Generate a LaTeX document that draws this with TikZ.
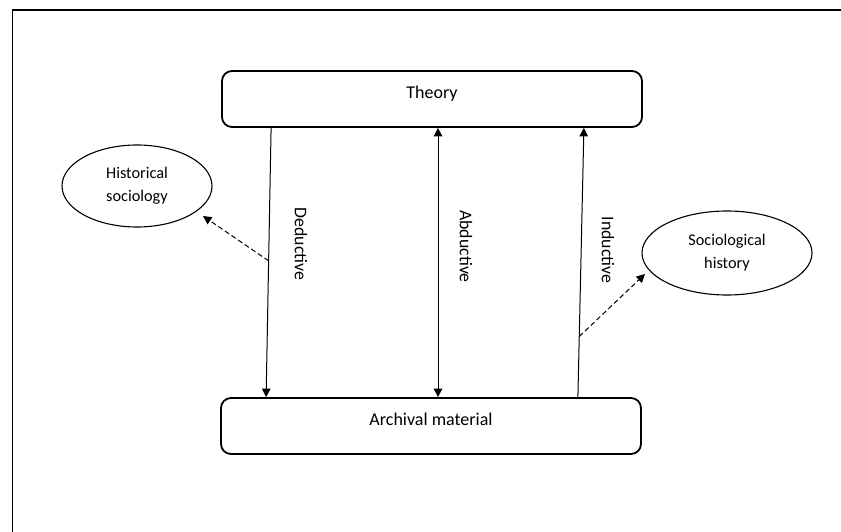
\documentclass[tikz,border=0pt]{standalone}
\usepackage{fontspec}
\setmainfont{Carlito}
\usetikzlibrary{arrows.meta,shapes.geometric,calc}
\begin{document}
\begin{tikzpicture}[x=1pt,y=-1pt,
  stage/.style={draw, line width=1.8pt, rounded corners=10pt,
    minimum width=420pt, minimum height=56pt, inner sep=0pt,
    text height=6pt, text depth=6.5pt, font=\fontsize{18}{22}\selectfont},
  field/.style={draw, ellipse, line width=1.1pt, inner sep=0pt, align=center,
    font=\fontsize{16.3}{23}\selectfont},
  tip/.style={-{Triangle[length=8.5pt,width=8.5pt]}},
  link/.style={line width=1pt, tip},
  twoway/.style={line width=1pt,
    {Triangle[length=8.5pt,width=8.5pt]}-{Triangle[length=8.5pt,width=8.5pt]}},
  hint/.style={line width=1pt, dash pattern=on 5pt off 3pt, tip},
  mode/.style={rotate=-90, inner sep=0pt, font=\fontsize{17.8}{22}\selectfont}
]
\useasboundingbox (0,0) rectangle (841,532);

% frame edges
\draw[line width=1.4pt] (841,10) -- (12.5,10) -- (12.5,532);

% the two levels
\node[stage] (theory) at (432,99) {Theory};
\node[stage] (archive) at (431,426) {Archival material};

% end points of the three reasoning routes
\coordinate (dtop) at ($(theory.south west)+(50,0)$);
\coordinate (dbot) at ($(archive.north west)+(46,0)$);
\coordinate (atop) at ($(theory.south)+(6,0)$);
\coordinate (abot) at ($(archive.north)+(7,0)$);
\coordinate (itop) at ($(theory.south east)+(-59,0)$);
\coordinate (ibot) at ($(archive.north east)+(-64,0)$);

\draw[link] (dtop) -- (dbot);
\draw[twoway] (abot) -- (atop);
\draw[link] (ibot) -- (itop);

\node[mode] (ded) at (301,244) {Deductive};
\node[mode] (abd) at (466,246.5) {Abductive};
\node[mode] (ind) at (608,250) {Inductive};

% the two disciplines
\node[field, minimum width=150pt, minimum height=82pt] (histsoc) at (137,186) {Historical\\sociology};
\node[field, minimum width=170pt, minimum height=84pt] (sochist) at (727,253) {Sociological\\history};

\coordinate (dmid) at ($(dtop)!0.494!(dbot)$);
\coordinate (hsend) at ($(histsoc.center)+(66,30)$);
\coordinate (imid) at ($(ibot)!0.225!(itop)$);
\coordinate (shend) at ($(sochist.center)+(-82,21)$);

\draw[hint] (dmid) -- (hsend);
\draw[hint] (imid) -- (shend);
\end{tikzpicture}
\end{document}
